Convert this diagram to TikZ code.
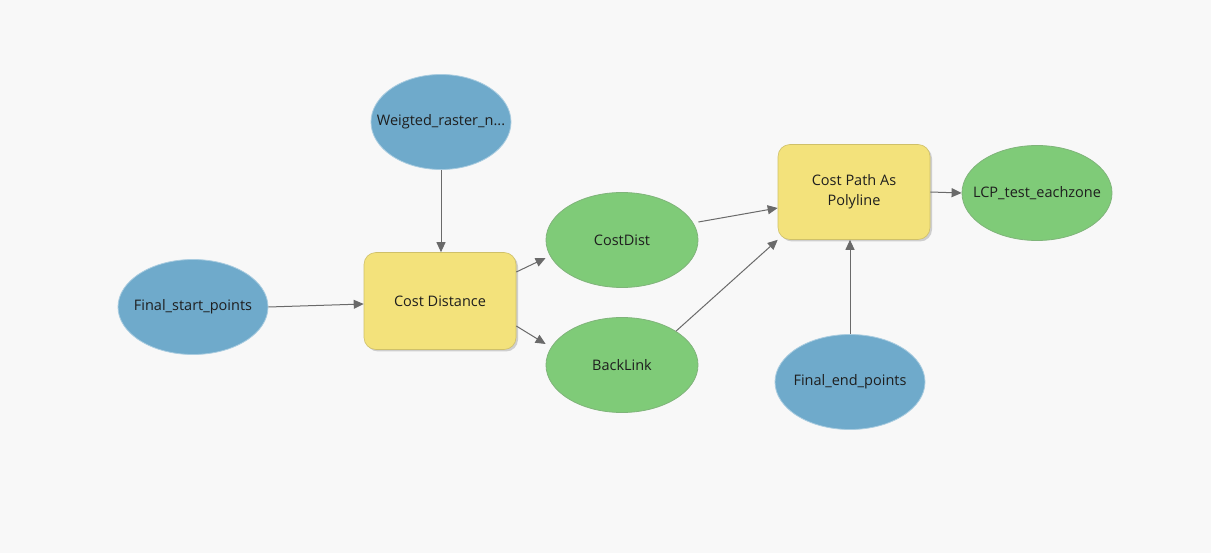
\documentclass[tikz,border=0pt]{standalone}
\usepackage{fontspec}
\setmainfont{Open Sans}
\usetikzlibrary{shapes.geometric,arrows.meta,shadows}
\definecolor{bgc}{HTML}{F8F8F8}
\definecolor{datablue}{HTML}{6FAACB}
\definecolor{datagreen}{HTML}{7FCB78}
\definecolor{toolyellow}{HTML}{F3E27B}
\definecolor{linkgray}{HTML}{6A6A6A}
\definecolor{textc}{HTML}{1E1E1E}
% zero-width label so the ellipse keeps its fixed size
\newcommand{\ellabel}[1]{\makebox[0pt]{#1}}
\tikzset{
  input/.style={ellipse, fill=datablue, draw=datablue!60!white, line width=0.8pt,
    minimum width=150pt, minimum height=95pt, inner sep=0pt, text=textc,
    font=\fontsize{14.5}{17}\selectfont},
  output/.style={ellipse, fill=datagreen, draw=datagreen!70!gray, line width=0.8pt,
    minimum width=152pt, minimum height=95pt, inner sep=0pt, text=textc,
    font=\fontsize{14.5}{17}\selectfont},
  tool/.style={rectangle, rounded corners=12pt, fill=toolyellow, draw=toolyellow!85!black,
    line width=0.6pt, minimum width=152pt, minimum height=97pt, align=center, text=textc,
    font=\fontsize{14.5}{20}\selectfont,
    drop shadow={shadow xshift=2pt, shadow yshift=-2pt, opacity=0.35, fill=gray}},
  link/.style={draw=linkgray, line width=1pt, -{Triangle[length=10pt,width=9pt]}},
}
\begin{document}
\begin{tikzpicture}[x=1pt,y=-1pt]
  \fill[bgc] (0,0) rectangle (1211,553);
  \useasboundingbox (0,0) rectangle (1211,553);

  \node[input, minimum width=140pt] (weight) at (441,122) {\ellabel{Weigted\_raster\_n...}};
  \node[input]  (start)  at (193,307) {\ellabel{Final\_start\_points}};
  \node[tool]   (cdist)  at (440,301) {Cost Distance};
  \node[output] (costd)  at (622,240) {\ellabel{CostDist}};
  \node[output] (blink)  at (622,365) {\ellabel{BackLink}};
  \node[tool, minimum height=95pt] (cpath) at (854,192) {Cost Path As\\Polyline};
  \node[output, minimum width=150pt] (lcp) at (1037,193) {\ellabel{LCP\_test\_eachzone}};
  \node[input]  (endp)   at (850,382) {\ellabel{Final\_end\_points}};

  \draw[link] (weight.south) -- (cdist.north -| weight.south);
  \draw[link] (start.east) -- (cdist.west |- 0,304);
  \draw[link] (cdist.east |- 0,272) -- (costd.west |- 0,258) ;
  \draw[link] (cdist.east |- 0,326) -- (blink.west |- 0,344);
  \draw[link] (costd.east |- 0,222) -- (cpath.west |- 0,208);
  \draw[link] (blink.north east) -- (cpath.south west);
  \draw[link] (endp.north) -- (cpath.south -| endp.north);
  \draw[link] (cpath.east) -- (lcp.west);
\end{tikzpicture}
\end{document}
